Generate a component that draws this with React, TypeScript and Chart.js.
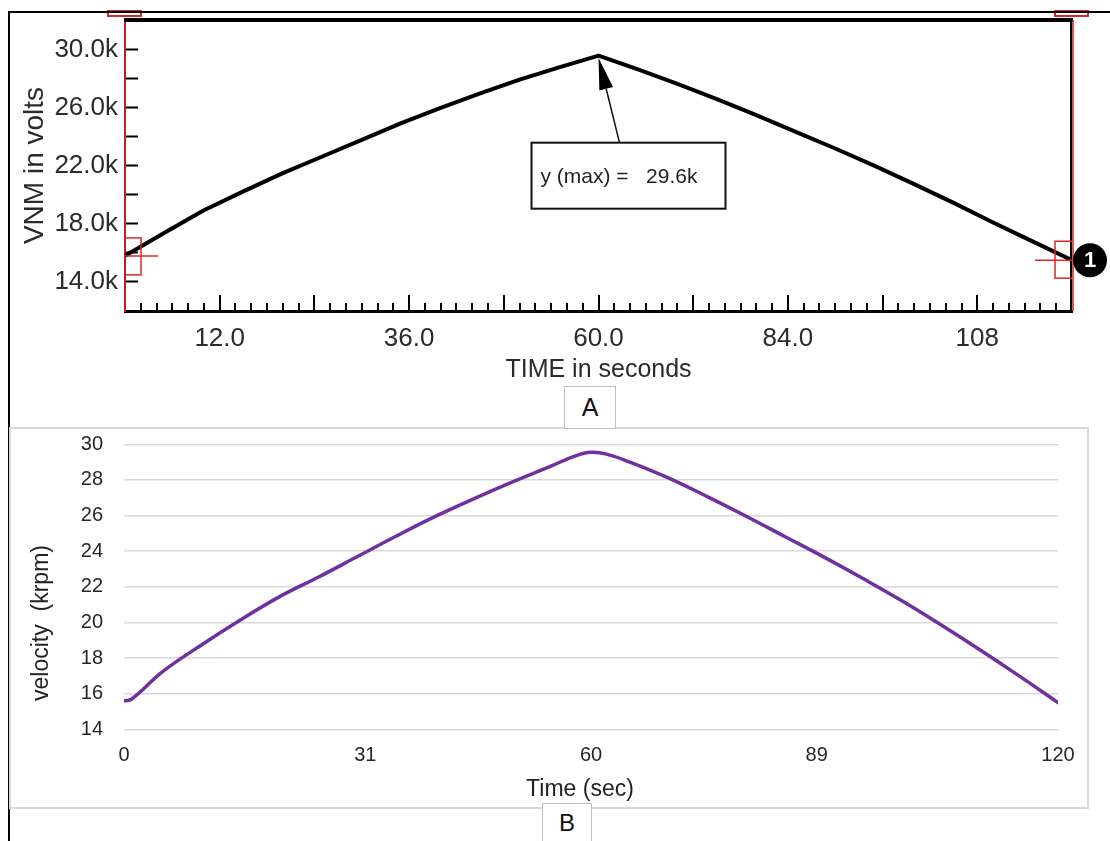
import React, { useEffect, useRef } from "react";
import { Chart, registerables } from "chart.js";

Chart.register(...registerables);

// ---------- Chart A (simulation) ----------
const timeA = [0, 5, 10, 15, 20, 25, 30, 35, 40, 45, 50, 55, 60, 65, 70, 75, 80, 85, 90, 95, 100, 105, 110, 115, 120];
const vnmA = [15.8, 17.4, 18.95, 20.25, 21.5, 22.65, 23.8, 24.95, 26.0, 27.0, 27.95, 28.8, 29.6, 28.65, 27.65, 26.6, 25.5, 24.35, 23.2, 22.0, 20.75, 19.45, 18.1, 16.8, 15.5];
const xLabelValuesA = [12, 36, 60, 84, 108];
const xLabelTextA = ["12.0", "36.0", "60.0", "84.0", "108"];
const yLabelValuesA = [14, 18, 22, 26, 30];
const yLabelTextA = ["14.0k", "18.0k", "22.0k", "26.0k", "30.0k"];

// ---------- Chart B (measurement) ----------
const timeB = [0, 1, 5, 10, 15, 20, 25, 30, 35, 40, 45, 50, 55, 58, 60, 62, 65, 70, 75, 80, 85, 90, 95, 100, 105, 110, 115, 120];
const velocityB = [15.6, 15.7, 17.25, 18.75, 20.15, 21.45, 22.55, 23.7, 24.85, 25.95, 26.95, 27.9, 28.8, 29.35, 29.55, 29.45, 29.0, 28.1, 27.05, 25.95, 24.8, 23.65, 22.45, 21.2, 19.85, 18.45, 17.0, 15.5];
const xTicksB = [0, 31, 60, 89, 120];

const FONT = '"Liberation Sans", Arial, sans-serif';

const zeroPad = (s: any) => {
  s.paddingTop = 0;
  s.paddingBottom = 0;
  s.paddingLeft = 0;
  s.paddingRight = 0;
};

const decorA = {
  id: "decorA",
  afterDraw(chart: any) {
    const { ctx, chartArea: ca, scales } = chart;
    const xs = scales.x;
    const ys = scales.y;
    ctx.save();
    // x tick marks (minor every 2 s, major every 12 s)
    ctx.strokeStyle = "#000";
    ctx.lineWidth = 2;
    for (const t of xs.ticks) {
      const v = t.value;
      if (v <= xs.min || v >= xs.max) continue;
      const px = Math.round(xs.getPixelForValue(v));
      const len = Math.abs(v % 12) < 1e-6 ? 16 : 8;
      ctx.beginPath();
      ctx.moveTo(px, ca.bottom);
      ctx.lineTo(px, ca.bottom - len);
      ctx.stroke();
    }
    // top frame
    ctx.lineWidth = 4;
    ctx.beginPath();
    ctx.moveTo(ca.left - 1, ca.top);
    ctx.lineTo(ca.right + 1, ca.top);
    ctx.stroke();
    // right frame
    ctx.lineWidth = 2;
    ctx.beginPath();
    ctx.moveTo(ca.right - 1, ca.top);
    ctx.lineTo(ca.right - 1, ca.bottom);
    ctx.stroke();
    ctx.strokeStyle = "#cc1f1f";
    ctx.lineWidth = 1.5;
    ctx.beginPath();
    ctx.moveTo(ca.right + 1, ca.top);
    ctx.lineTo(ca.right + 1, ca.bottom);
    ctx.stroke();

    // red cursor marks at top corners
    ctx.strokeStyle = "#d42a2a";
    ctx.lineWidth = 2;
    ctx.strokeRect(ca.left - 17, ca.top - 9, 33, 5);
    ctx.strokeRect(ca.right - 17, ca.top - 9, 33, 5);

    // red markers at curve ends
    const n = timeA.length;
    const p0x = xs.getPixelForValue(timeA[0]);
    const p0y = ys.getPixelForValue(vnmA[0]);
    const p1x = xs.getPixelForValue(timeA[n - 1]);
    const p1y = ys.getPixelForValue(vnmA[n - 1]);
    ctx.save();
    ctx.beginPath();
    ctx.rect(ca.left, ca.top, ca.right - ca.left, ca.bottom - ca.top);
    ctx.clip();
    ctx.lineWidth = 1.5;
    ctx.strokeRect(p0x - 16, p0y - 18, 32, 37);
    ctx.strokeRect(p1x - 17, p1y - 19, 34, 37);
    ctx.restore();
    ctx.lineWidth = 1.5;
    ctx.beginPath();
    ctx.moveTo(p0x, p0y);
    ctx.lineTo(p0x + 33, p0y);
    ctx.moveTo(p1x, p1y);
    ctx.lineTo(p1x - 37, p1y);
    ctx.stroke();

    // black numbered cursor circle
    ctx.fillStyle = "#000";
    ctx.beginPath();
    ctx.arc(p1x + 18, p1y, 17, 0, Math.PI * 2);
    ctx.fill();
    ctx.fillStyle = "#fff";
    ctx.font = `bold 22px ${FONT}`;
    ctx.textAlign = "center";
    ctx.textBaseline = "middle";
    ctx.fillText("1", p1x + 18, p1y + 1);

    // max annotation
    let mi = 0;
    for (let i = 1; i < n; i++) if (vnmA[i] > vnmA[mi]) mi = i;
    const mx = xs.getPixelForValue(timeA[mi]);
    const my = ys.getPixelForValue(vnmA[mi]);
    const bx = mx - 67;
    const by = my + 87;
    const bw = 194;
    const bh = 66;
    ctx.fillStyle = "#fff";
    ctx.fillRect(bx, by, bw, bh);
    ctx.strokeStyle = "#111";
    ctx.lineWidth = 2;
    ctx.strokeRect(bx, by, bw, bh);
    ctx.fillStyle = "#222";
    ctx.font = `21px ${FONT}`;
    ctx.textAlign = "left";
    ctx.textBaseline = "middle";
    ctx.fillText(`y (max) =   ${vnmA[mi].toFixed(1)}k`, bx + 9, by + 35);
    // arrow
    const sx = mx + 21;
    const sy = by;
    const tx = mx;
    const ty = my + 2;
    const ang = Math.atan2(ty - sy, tx - sx);
    const hl = 32;
    const hw = 7;
    ctx.strokeStyle = "#111";
    ctx.lineWidth = 1.5;
    ctx.beginPath();
    ctx.moveTo(sx, sy);
    ctx.lineTo(tx - Math.cos(ang) * hl, ty - Math.sin(ang) * hl);
    ctx.stroke();
    ctx.fillStyle = "#000";
    ctx.beginPath();
    ctx.moveTo(tx, ty);
    ctx.lineTo(tx - Math.cos(ang) * hl + Math.sin(ang) * hw, ty - Math.sin(ang) * hl - Math.cos(ang) * hw);
    ctx.lineTo(tx - Math.cos(ang) * hl - Math.sin(ang) * hw, ty - Math.sin(ang) * hl + Math.cos(ang) * hw);
    ctx.closePath();
    ctx.fill();
    ctx.restore();
  },
};

const titlesB = {
  id: "titlesB",
  afterDraw(chart: any) {
    const { ctx } = chart;
    ctx.save();
    ctx.fillStyle = "#222";
    ctx.font = `23px ${FONT}`;
    ctx.textAlign = "center";
    ctx.textBaseline = "middle";
    ctx.fillText("Time (sec)", 580, 370);
    ctx.translate(42, 203);
    ctx.rotate(-Math.PI / 2);
    ctx.fillText("velocity  (krpm)", 0, 0);
    ctx.restore();
  },
};

export default function App() {
  const refA = useRef<HTMLCanvasElement | null>(null);
  const refB = useRef<HTMLCanvasElement | null>(null);

  useEffect(() => {
    const chartA = new Chart(refA.current as HTMLCanvasElement, {
      type: "line",
      data: {
        datasets: [
          {
            data: timeA.map((t, i) => ({ x: t, y: vnmA[i] })),
            borderColor: "#000",
            borderWidth: 4,
            pointRadius: 0,
            tension: 0,
            borderJoinStyle: "round",
          },
        ],
      },
      options: {
        responsive: false,
        animation: false,
        devicePixelRatio: 1,
        layout: { padding: { top: 20, right: 38, left: 0, bottom: 0 } },
        plugins: { legend: { display: false }, tooltip: { enabled: false } },
        scales: {
          x: {
            type: "linear",
            min: 0,
            max: 120,
            afterFit: (s: any) => {
              s.height = 89;
              zeroPad(s);
            },
            ticks: {
              stepSize: 2,
              autoSkip: false,
              maxRotation: 0,
              padding: 12,
              color: "#2b2b2b",
              font: { family: FONT, size: 26 },
              callback: (v: any) => {
                const i = xLabelValuesA.findIndex((a) => Math.abs(a - v) < 1e-6);
                return i >= 0 ? xLabelTextA[i] : "";
              },
            },
            grid: { display: false, drawTicks: false },
            border: { display: true, color: "#000", width: 3 },
            title: {
              display: true,
              text: "TIME in seconds",
              color: "#2b2b2b",
              font: { family: FONT, size: 25 },
              padding: { top: 0, bottom: 15 },
            },
          },
          y: {
            type: "linear",
            min: 12,
            max: 32.06,
            afterFit: (s: any) => {
              s.width = 125;
              zeroPad(s);
            },
            ticks: {
              stepSize: 2,
              autoSkip: false,
              includeBounds: false,
              padding: 20,
              color: "#2b2b2b",
              font: { family: FONT, size: 26 },
              callback: (v: any) => {
                const i = yLabelValuesA.findIndex((a) => Math.abs(a - v) < 1e-6);
                return i >= 0 ? yLabelTextA[i] : "";
              },
            },
            grid: {
              display: true,
              drawOnChartArea: false,
              drawTicks: true,
              tickLength: -13,
              tickColor: "#000",
              tickWidth: 2,
            },
            border: { display: true, color: "#c41e1e", width: 2 },
            title: {
              display: true,
              text: "VNM in volts",
              color: "#2b2b2b",
              font: { family: FONT, size: 28 },
              padding: { top: 18, bottom: 0 },
            },
          },
        },
      },
      plugins: [decorA],
    } as any);

    const chartB = new Chart(refB.current as HTMLCanvasElement, {
      type: "line",
      data: {
        datasets: [
          {
            data: timeB.map((t, i) => ({ x: t, y: velocityB[i] })),
            borderColor: "#7030a0",
            borderWidth: 3.5,
            pointRadius: 0,
            tension: 0.4,
            borderJoinStyle: "round",
            borderCapStyle: "round",
          },
        ],
      },
      options: {
        responsive: false,
        animation: false,
        devicePixelRatio: 1,
        layout: { padding: { top: 24.3, right: 52, left: 0, bottom: 0 } },
        plugins: { legend: { display: false }, tooltip: { enabled: false } },
        scales: {
          x: {
            type: "linear",
            min: 0,
            max: 120,
            afterFit: (s: any) => {
              s.height = 111.7;
              zeroPad(s);
            },
            afterBuildTicks: (s: any) => {
              s.ticks = xTicksB.map((v) => ({ value: v }));
            },
            ticks: {
              autoSkip: false,
              maxRotation: 0,
              padding: 14,
              color: "#262626",
              font: { family: FONT, size: 20 },
              callback: (v: any) => String(v),
            },
            grid: { display: false, drawTicks: false },
            border: { display: false },
          },
          y: {
            type: "linear",
            min: 14,
            max: 30,
            afterFit: (s: any) => {
              s.width = 124;
              zeroPad(s);
            },
            ticks: {
              stepSize: 2,
              padding: 21,
              color: "#262626",
              font: { family: FONT, size: 20 },
            },
            grid: { color: "#d9d9d9", lineWidth: 1.5, drawTicks: false },
            border: { display: false },
          },
        },
      },
      plugins: [titlesB],
    } as any);

    return () => {
      chartA.destroy();
      chartB.destroy();
    };
  }, []);

  return (
    <div style={{ position: "absolute", left: 0, top: 0, width: 1110, height: 841, background: "#fff", overflow: "hidden" }}>
      <canvas ref={refA} width={1110} height={400} style={{ position: "absolute", left: 0, top: 0, display: "block" }} />
      <canvas ref={refB} width={1110} height={421} style={{ position: "absolute", left: 0, top: 420, display: "block" }} />
      <div style={{ position: "absolute", left: 8, top: 11, width: 1102, height: 830, borderTop: "2px solid #000", borderLeft: "2px solid #000", boxSizing: "border-box" }} />
      <div style={{ position: "absolute", left: 9, top: 427, width: 1080, height: 382, border: "2px solid #d9d9d9", boxSizing: "border-box" }} />
      <div style={{ position: "absolute", left: 564, top: 386, width: 52, height: 43, border: "1px solid #bfbfbf", background: "#fff", boxSizing: "border-box", display: "flex", alignItems: "center", justifyContent: "center", fontFamily: FONT, fontSize: 25, color: "#111" }}>A</div>
      <div style={{ position: "absolute", left: 542, top: 803, width: 50, height: 46, border: "1px solid #bfbfbf", background: "#fff", boxSizing: "border-box", display: "flex", alignItems: "center", justifyContent: "center", fontFamily: FONT, fontSize: 24, color: "#111", paddingBottom: 6 }}>B</div>
    </div>
  );
}
